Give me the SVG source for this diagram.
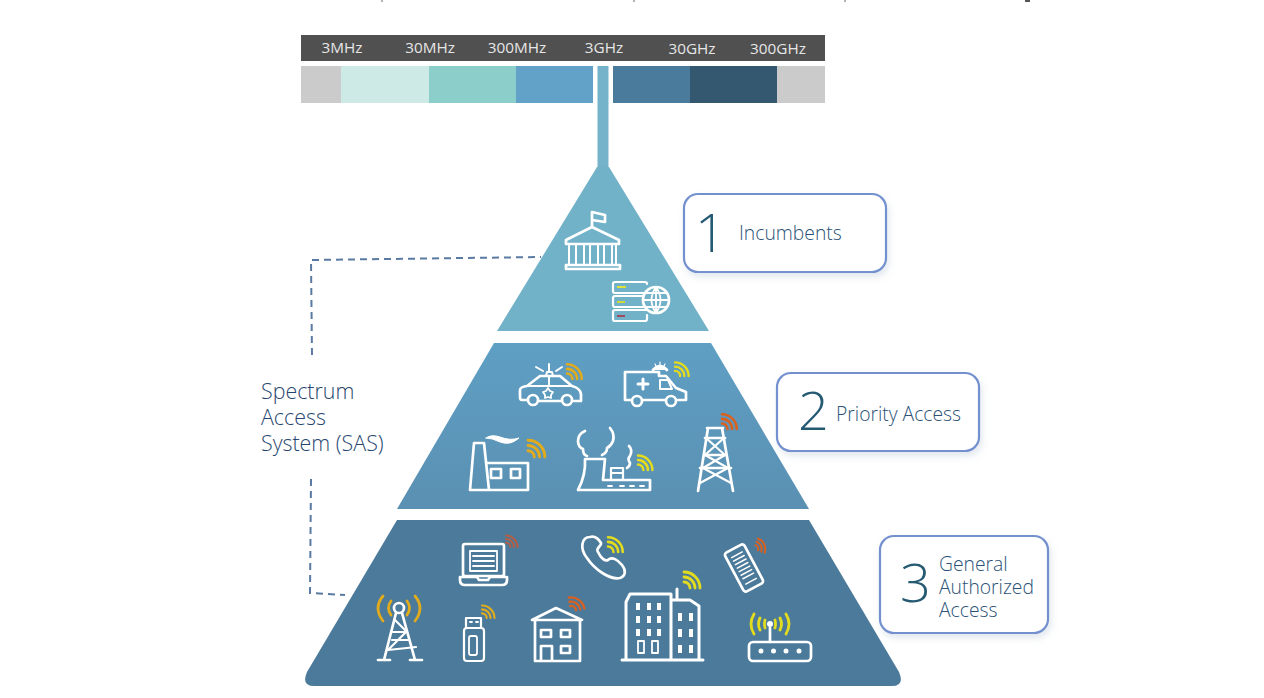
<svg xmlns="http://www.w3.org/2000/svg" xmlns:xlink="http://www.w3.org/1999/xlink" width="1264" height="698" viewBox="0 0 1264 698">
<style>
text{font-family:"Open Sans","Liberation Sans",sans-serif}
.f{font-size:15.300px;fill:#e6e6e6;text-anchor:middle}
.l{font-size:19.300px;font-weight:300;fill:#2c5377}
.s{font-size:21.400px;font-weight:300;fill:#27466f}
.n{font-size:54px;font-weight:300;fill:#255a72}
.box{fill:#fff;stroke:#7390cf;stroke-width:2.200;filter:url(#sh)}
.ic{fill:none;stroke:#fff;stroke-width:2.700;stroke-linecap:round;stroke-linejoin:round}
.ifill{fill:#fff;stroke:none}
.wv{fill:none;stroke-width:2.800;stroke-linecap:round}
.y{stroke:#e3dc1e}.a{stroke:#e0ab1d}.o{stroke:#d9601f}.m{stroke:#b25f45}
.d{fill:none;stroke:#5a7aa4;stroke-width:2;stroke-dasharray:7 5}
</style>
<defs>
<filter id="sh" x="-10%" y="-15%" width="120%" height="135%"><feDropShadow dx="2" dy="4" stdDeviation="3.500" flood-color="#9db0c8" flood-opacity=".3"/></filter>
<linearGradient id="g2" x1="0" y1="0" x2="0" y2="1"><stop offset="0" stop-color="#5f9fc4"/><stop offset="1" stop-color="#5a90b2"/></linearGradient>
<g id="w"><path d="M0-6A6 6 0 0 1 6 0M0-11A11 11 0 0 1 11 0M0-16A16 16 0 0 1 16 0"/></g>
</defs>

<path d="M382 0V2M634 0V2M845 0V2" stroke="#666" fill="none"/>
<path d="M1025 0V2H1030V0Z" fill="#555"/>

<g id="spectrum">
<rect x="301" y="35" width="524" height="26" fill="#505050"/>
<text class="f" x="342" y="52.500">3MHz</text>
<text class="f" x="430" y="52.500">30MHz</text>
<text class="f" x="517" y="52.500">300MHz</text>
<text class="f" x="604" y="52.500">3GHz</text>
<text class="f" x="692" y="54">30GHz</text>
<text class="f" x="778" y="53.500">300GHz</text>
<rect x="301" y="66" width="40" height="37" fill="#cbcbcb"/>
<rect x="341" y="66" width="88" height="37" fill="#cdeae7"/>
<rect x="429" y="66" width="87" height="37" fill="#8ccec9"/>
<rect x="516" y="66" width="77" height="37" fill="#62a2c8"/>
<rect x="613" y="66" width="77" height="37" fill="#4a7b9c"/>
<rect x="690" y="66" width="87" height="37" fill="#34586f"/>
<rect x="777" y="66" width="48" height="37" fill="#cbcbcb"/>
<rect x="597.500" y="66" width="11" height="102" fill="#74b3c9"/>
</g>

<g id="connectors">
<path class="d" d="M312 355L311 260L541 257"/>
<path class="d" d="M311 479L310 593L345 595"/>
</g>

<g id="tier1">
<path d="M597 167H609L709 331H497Z" fill="#72b2c8"/>
<g class="ic">
<path d="M592 226V212L605 215V222L592 220"/>
<path d="M566 240L592 227L619 240V244H566Z"/>
<path d="M569 244V265M576 244V265M584 244V265M590 244V265M598 244V265M604 244V265M612 244V265M616 244V265" stroke-width="2"/>
<rect x="566" y="265" width="54" height="4"/>
<path d="M647 293H615Q613 293 613 291V284Q613 282 615 282H645Q647 282 647 284M643 296H615Q613 296 613 298V305Q613 307 615 307H643M647 310H615Q613 310 613 312V319Q613 321 615 321H645Q647 321 647 319V315" stroke-width="2.200"/>
<circle cx="656" cy="300" r="13"/>
<path d="M656 287V313M643 300H669M645 293H667M645 307H667M656 287Q647 300 656 313Q665 300 656 287" stroke-width="1.800"/>
</g>
<rect x="617" y="286" width="9" height="2" fill="#dfe23c"/>
<rect x="617" y="301" width="8" height="2" fill="#cfd83a"/>
<rect x="617" y="315" width="8" height="2" fill="#a04a60"/>
</g>

<g id="tier2">
<path d="M494 343H711L809 509H397Z" fill="url(#g2)"/>
<g id="police-car">
<g class="ic">
<path d="M527 400H522Q520 400 520 397V390Q520 387 527 386L540 376H560L572 386Q580 388 581 394V401H574M561 401H539"/>
<path d="M546 376L547 372H552L553 376M549 372V364M543 371L536 367M556 371L562 367M526 386H572M549 376V386" stroke-width="2"/>
<circle cx="533" cy="400" r="5"/><circle cx="567" cy="400" r="5"/>
<path d="M548 388L550 391L553 392L551 395L551 398L548 397L545 398L545 395L543 392L546 391Z" stroke-width="1.800"/>
</g>
<use xlink:href="#w" href="#w" class="wv a" transform="translate(567,379) scale(.92)"/>
</g>
<g id="ambulance">
<g class="ic">
<path d="M631 400H625V372H659V376H666L676 388L686 392V400H678M665 400H643"/>
<circle cx="637" cy="401" r="5"/><circle cx="671" cy="401" r="5"/>
<path d="M660 380H668L672 389H660Z" stroke-width="2"/>
<path d="M643 379V389M638 384H648" stroke-width="3"/>
<path d="M653 370Q660 362 667 370" fill="#fff"/>
<path d="M656 366L655 364M660 365V362M664 366L665 364" stroke-width="1.200"/>
</g>
<use xlink:href="#w" href="#w" class="wv y" transform="translate(675,376) scale(.85)"/>
</g>
<g id="factory">
<g class="ic">
<path d="M470 490L474 443H484L489 490M470 490H528V463H486"/>
<rect x="491" y="469" width="10" height="9"/><rect x="511" y="469" width="9" height="9"/>
<path d="M486 438Q491 434 500 437Q510 441 519 438Q510 446 500 442Q492 438 486 438Z" fill="#fff" stroke-width="1"/>
</g>
<use xlink:href="#w" href="#w" class="wv a" transform="translate(528,457) scale(1.050)"/>
</g>
<g id="power-plant">
<g class="ic">
<path d="M578 490Q586 475 585 459H605L603 480M578 490H650V480H603"/>
<path d="M611 480V468H623V480M611 473H623" stroke-width="2.200"/>
<path d="M608 486H612M620 486H624M630 486H634M640 486H644" stroke-width="1.800"/>
<path d="M585 431Q578 434 578 441Q578 447 583 449Q583 455 587 456M610 428Q615 434 613 441Q611 446 607 448Q607 453 602 455M629 446Q633 450 630 456Q627 459 630 463Q630 466 627 468"/>
</g>
<use xlink:href="#w" href="#w" class="wv y" transform="translate(638,470) scale(.9)"/>
</g>
<g id="oil-tower">
<g class="ic">
<path d="M707 428H723M705 438H725M704 455H726M700 468H731M698 491L708 428M733 491L722 428"/>
<path d="M706 438L725 455L703 468L731 483M724 438L705 455L728 468L700 483" stroke-width="2.200"/>
</g>
<use xlink:href="#w" href="#w" class="wv o" transform="translate(722,429) scale(.92)"/>
</g>
</g>

<g id="tier3">
<path d="M397 520H809L899 672Q905 686 892 686H314Q301 686 307 672Z" fill="#4c7a9a"/>
<g id="laptop">
<g class="ic">
<rect x="463" y="544" width="41" height="32" rx="2"/>
<rect x="470" y="551" width="27" height="20" stroke-width="1.800"/>
<path d="M473 556H494M473 561H494M473 566H494" stroke-width="1.800"/>
<path d="M460 577H477L479 580H488L490 577H507V580Q507 585 502 585H465Q460 585 460 580Z"/>
</g>
<use xlink:href="#w" href="#w" class="wv m" transform="translate(506,547) scale(.72)" stroke-width="4.500"/>
</g>
<g id="phone-call">
<path class="ic" d="M590 537C582 537 579 548 587 558C595 570 610 580 620 578C626 576 626 570 622 565C618 560 612 556 608 560C604 562 600 556 598 552C595 548 602 546 601 543C598 538 594 536 590 537Z"/>
<use xlink:href="#w" href="#w" class="wv y" transform="translate(608,552) scale(.92)"/>
</g>
<g id="smartphone">
<g class="ic" transform="translate(744,568) rotate(-28)">
<rect x="-11" y="-22" width="22" height="44" rx="3"/>
<path d="M-6-15H6M-6-11H6M-6-7H6M-6-3H6M-6 1H6M-6 5H6M-6 9H6M-6 15H6" stroke-width="1.500"/>
</g>
<use xlink:href="#w" href="#w" class="wv o" transform="translate(754,549) rotate(20) scale(.7)"/>
</g>
<g id="cell-tower">
<g class="ic">
<circle cx="399" cy="608" r="5"/>
<path d="M396 613L384 660M402 613L415 660M378 660H390M410 660H422"/>
<path d="M393 632H406L388 650L416 647M395 620L407 632M392 640H408" stroke-width="2.200"/>
</g>
<path class="wv a" stroke-width="3" d="M383 596Q373 608 383 621M391 601Q386 608 391 615M415 596Q425 608 415 621M407 601Q412 608 407 615"/>
</g>
<g id="usb-stick">
<g class="ic">
<path d="M466 628V618H481V628" stroke-width="2.200"/>
<rect x="464" y="628" width="20" height="33" rx="3" stroke-width="2.200"/>
<rect x="469" y="636" width="8" height="19" rx="2" stroke-width="1.800"/>
<path d="M470 622H472M476 622H478" stroke-width="1.800"/>
</g>
<use xlink:href="#w" href="#w" class="wv a" transform="translate(482,618) scale(.78)"/>
</g>
<g id="house">
<g class="ic">
<path d="M532 620L556 608L582 620ZM535 620V661H580V620M541 661V646H552V661"/>
<rect x="541" y="630" width="10" height="7"/><rect x="561" y="630" width="9" height="7"/><rect x="561" y="646" width="9" height="7"/>
</g>
<use xlink:href="#w" href="#w" class="wv o" transform="translate(571,611) rotate(-10) scale(.85)" stroke-width="3.400"/>
</g>
<g id="office">
<path class="ic" d="M622 660H703M626 660V602L630 594H671V660M671 600H677V589V600H690L699 606V660" style="stroke-width:3"/>
<g class="ifill">
<rect x="636" y="603" width="4" height="7"/><rect x="647" y="603" width="4" height="7"/><rect x="657" y="603" width="4" height="7"/>
<rect x="636" y="616" width="4" height="7"/><rect x="647" y="616" width="4" height="7"/><rect x="657" y="616" width="4" height="7"/>
<rect x="636" y="629" width="4" height="7"/><rect x="647" y="629" width="4" height="7"/><rect x="657" y="629" width="4" height="7"/>
<rect x="678" y="613" width="4" height="8"/><rect x="689" y="613" width="4" height="8"/>
<rect x="678" y="629" width="4" height="8"/><rect x="689" y="629" width="4" height="8"/>
<rect x="678" y="645" width="4" height="8"/><rect x="689" y="645" width="4" height="8"/>
</g>
<g class="ic" style="stroke-width:1.800"><rect x="638" y="641" width="6" height="12"/><rect x="652" y="641" width="6" height="12"/></g>
<use xlink:href="#w" href="#w" class="wv y" transform="translate(684,588) scale(1)"/>
</g>
<g id="router">
<g class="ic">
<rect x="749" y="642" width="62" height="19" rx="4"/>
<path d="M770 628V642"/>
</g>
<g class="ifill"><circle cx="770" cy="624" r="3"/><circle cx="761" cy="651" r="2.500"/><circle cx="773.500" cy="651" r="2.500"/><circle cx="786" cy="651" r="2.500"/><circle cx="799" cy="651" r="2.500"/></g>
<path class="wv y" stroke-width="2.600" d="M754 614Q748 624 754 634M760 618Q757 624 760 630M765 620Q764 624 765 628M786 614Q792 624 786 634M780 618Q783 624 780 630M775 620Q776 624 775 628"/>
</g>
</g>

<text class="s"><tspan x="261" y="399">Spectrum</tspan><tspan x="261" y="425">Access</tspan><tspan x="261" y="451">System (SAS)</tspan></text>

<g id="label-1">
<rect class="box" x="684" y="194" width="202" height="78" rx="14"/>
<text class="n" x="695" y="252">1</text>
<text class="l" x="739" y="240">Incumbents</text>
</g>
<g id="label-2">
<rect class="box" x="777" y="373" width="202" height="78" rx="14"/>
<text class="n" x="798" y="430">2</text>
<text class="l" x="836" y="420.500">Priority Access</text>
</g>
<g id="label-3">
<rect class="box" x="880" y="536" width="168" height="97" rx="14"/>
<text class="n" x="900" y="602">3</text>
<text class="l"><tspan x="939" y="571">General</tspan><tspan x="939" y="594">Authorized</tspan><tspan x="939" y="617">Access</tspan></text>
</g>
</svg>
